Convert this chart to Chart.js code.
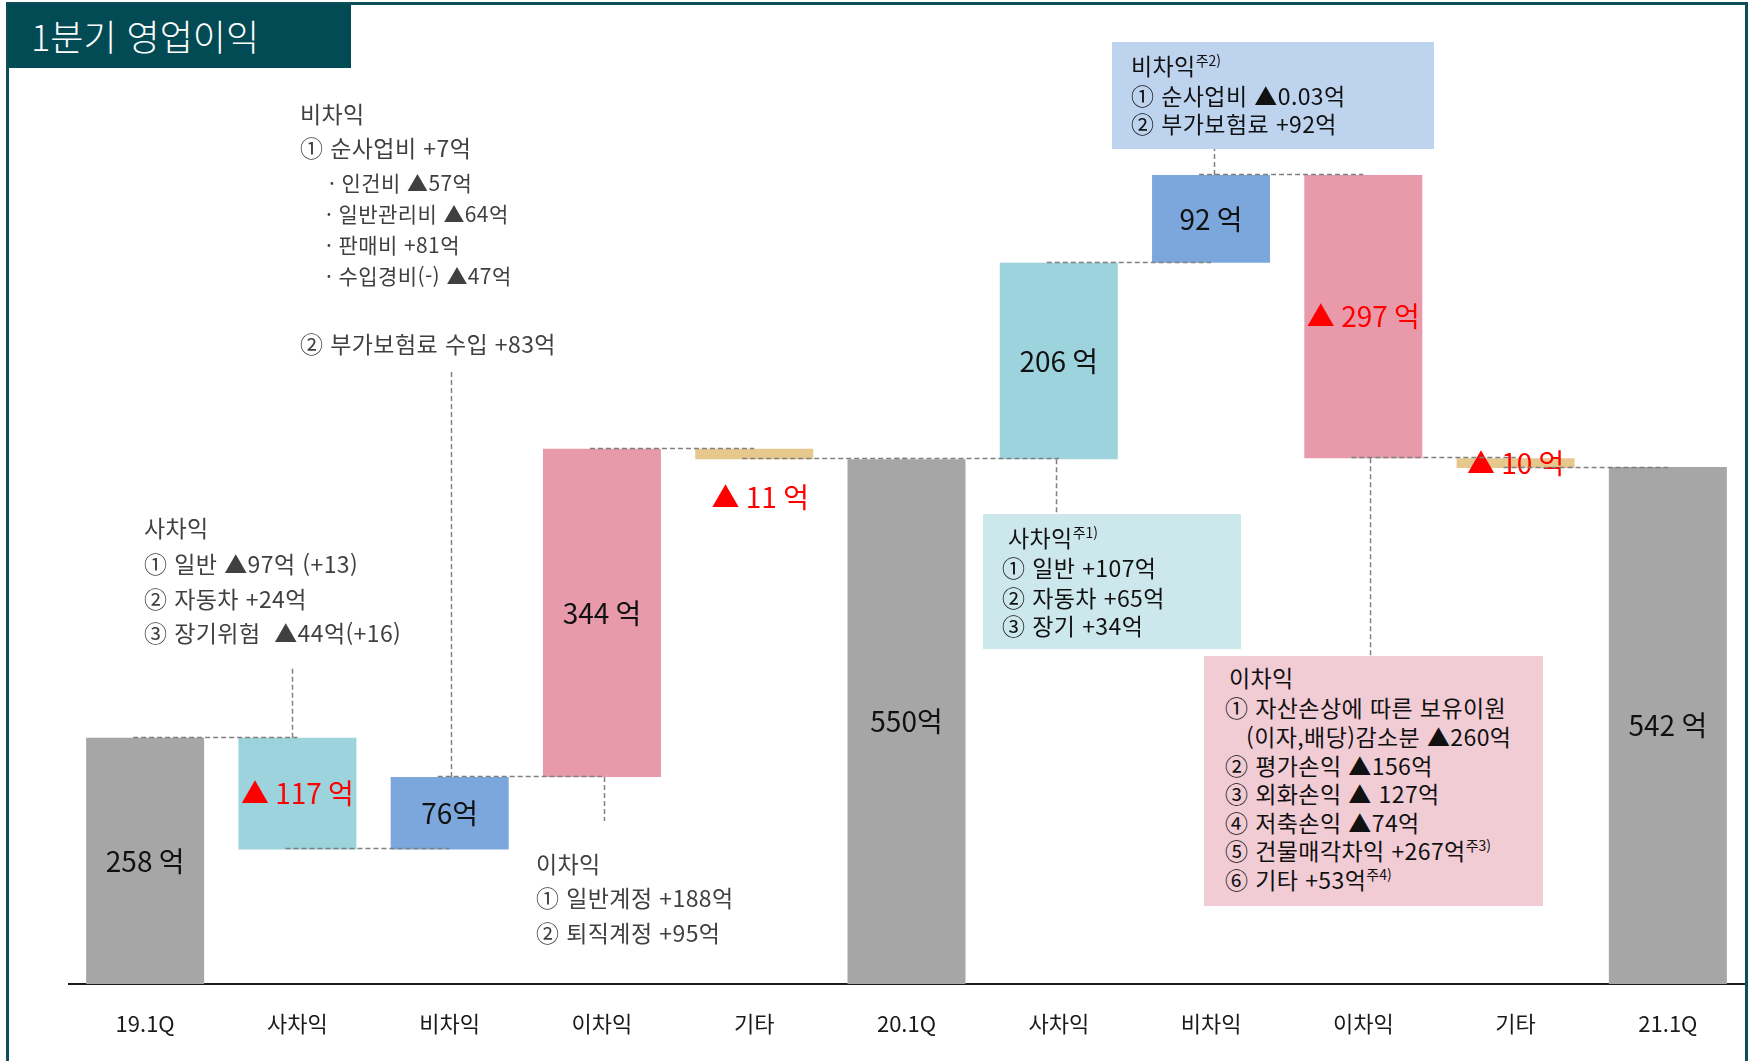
<!DOCTYPE html>
<html lang="ko">
<head>
<meta charset="utf-8">
<title>1분기 영업이익</title>
<script src="https://cdn.jsdelivr.net/npm/chart.js@4.4.1/dist/chart.umd.min.js"></script>
<style>
  html, body { margin: 0; padding: 0; background: #fff; }
  #wrap { position: relative; width: 1752px; height: 1061px; overflow: hidden;
          font-family: "Noto Sans CJK KR", "Noto Sans", sans-serif; }
  #chart { position: absolute; left: 0; top: 0; }
  .frame { position: absolute; left: 6px; top: 2px; width: 1736px; height: 1080px;
           border: 3px solid #0e4f57; border-bottom: none; pointer-events: none; }
  .title { position: absolute; left: 8px; top: 4px; width: 320px; height: 64px;
           padding-left: 23px; background: #024b54; color: #fff; font-size: 36px; line-height: 62px;
           font-weight: 300; }
  .note-box { position: absolute; }
  .note { position: absolute; white-space: pre; letter-spacing: 0.4px; }
  .note sup { font-size: 14px; vertical-align: 9px; line-height: 0; letter-spacing: 0; }
</style>
</head>
<body>
<div id="wrap">
  <canvas id="chart"></canvas>
  <div class="frame"></div>
  <div class="title">1분기 영업이익</div>
</div>
<script>
/* ---- data ---- */
const CATEGORIES   = ['19.1Q', '사차익', '비차익', '이차익', '기타', '20.1Q', '사차익', '비차익', '이차익', '기타', '21.1Q'];
const AMOUNTS      = [258, -117, 76, 344, -11, 550, 206, 92, -297, -10, 542];
const IS_TOTAL     = [true, false, false, false, false, true, false, false, false, false, true];
const VALUE_LABELS = ['258 억', '▲ 117 억', '76억', '344 억', '▲ 11 억', '550억', '206 억', '92 억', '▲ 297 억', '▲ 10 억', '542 억'];

const BAR_COLORS = {
  total:  '#a6a6a6',
  '사차익': '#9cd3dc',
  '비차익': '#7ba7dc',
  '이차익': '#e89aab',
  '기타':   '#e6c88c'
};

const FONT = '"Noto Sans CJK KR", "Noto Sans", sans-serif';

/* annotation boxes and lines (layout only) */
const NOTE_BOXES = [
  { x: 1112, y: 42,  w: 322, h: 107, fill: '#bdd3ee' },
  { x: 983,  y: 514, w: 258, h: 135, fill: '#cde8ec' },
  { x: 1204, y: 656, w: 339, h: 250, fill: '#f2ccd5' }
];

const NOTE_LINES = [
  { t: '비차익',                 x: 300,  y: 113, s: 23, c: '#404040' },
  { t: '① 순사업비 +7억',        x: 300,  y: 147, s: 23, c: '#404040' },
  { t: '· 인건비 ▲57억',         x: 329,  y: 182, s: 21, c: '#404040' },
  { t: '· 일반관리비 ▲64억',     x: 326,  y: 213, s: 21, c: '#404040' },
  { t: '· 판매비 +81억',         x: 326,  y: 244, s: 21, c: '#404040' },
  { t: '· 수입경비(-) ▲47억',    x: 326,  y: 275, s: 21, c: '#404040' },
  { t: '② 부가보험료 수입 +83억', x: 300,  y: 343, s: 23, c: '#404040' },

  { t: '사차익',                 x: 144,  y: 527, s: 23, c: '#404040' },
  { t: '① 일반 ▲97억 (+13)',     x: 144,  y: 563, s: 23, c: '#404040' },
  { t: '② 자동차 +24억',         x: 144,  y: 598, s: 23, c: '#404040' },
  { t: '③ 장기위험  ▲44억(+16)', x: 144,  y: 632, s: 23, c: '#404040' },

  { t: '이차익',                 x: 536,  y: 863, s: 23, c: '#404040' },
  { t: '① 일반계정 +188억',      x: 536,  y: 897, s: 23, c: '#404040' },
  { t: '② 퇴직계정 +95억',       x: 536,  y: 932, s: 23, c: '#404040' },

  { t: '비차익', sup: '주2)',    x: 1131, y: 65,  s: 23, c: '#111' },
  { t: '① 순사업비 ▲0.03억',     x: 1131, y: 95,  s: 23, c: '#111' },
  { t: '② 부가보험료 +92억',     x: 1131, y: 123, s: 23, c: '#111' },

  { t: '사차익', sup: '주1)',    x: 1008, y: 537, s: 23, c: '#111' },
  { t: '① 일반 +107억',          x: 1002, y: 567, s: 23, c: '#111' },
  { t: '② 자동차 +65억',         x: 1002, y: 597, s: 23, c: '#111' },
  { t: '③ 장기 +34억',           x: 1002, y: 625, s: 23, c: '#111' },

  { t: '이차익',                       x: 1229, y: 677, s: 23, c: '#111' },
  { t: '① 자산손상에 따른 보유이원',    x: 1225, y: 707, s: 23, c: '#111' },
  { t: '(이자,배당)감소분 ▲260억',      x: 1246, y: 736, s: 23, c: '#111' },
  { t: '② 평가손익 ▲156억',            x: 1225, y: 765, s: 23, c: '#111' },
  { t: '③ 외화손익 ▲ 127억',           x: 1225, y: 793, s: 23, c: '#111' },
  { t: '④ 저축손익 ▲74억',             x: 1225, y: 822, s: 23, c: '#111' },
  { t: '⑤ 건물매각차익 +267억', sup: '주3)', x: 1225, y: 850, s: 23, c: '#111' },
  { t: '⑥ 기타 +53억', sup: '주4)',     x: 1225, y: 879, s: 23, c: '#111' }
];

/* vertical dashed leaders: bar index, which edge, and where the note sits */
const LEADERS = [
  { bar: 1, edge: 'top',    to: 668, dx: -5 },
  { bar: 2, edge: 'top',    to: 369, dx: 1 },
  { bar: 3, edge: 'bottom', to: 821, dx: 2 },
  { bar: 6, edge: 'bottom', to: 514, dx: -3 },
  { bar: 7, edge: 'top',    to: 143, dx: 3 },
  { bar: 8, edge: 'bottom', to: 656, dx: 7 }
];

/* ---- waterfall ranges ---- */
const levels = [];
let run = 0;
const ranges = AMOUNTS.map((v, i) => {
  if (IS_TOTAL[i]) { run = v; levels.push(run); return [0, v]; }
  const start = run;
  run += v;
  levels.push(run);
  return [Math.min(start, run), Math.max(start, run)];
});
const barColors = CATEGORIES.map((c, i) => IS_TOTAL[i] ? BAR_COLORS.total : BAR_COLORS[c]);

/* ---- notes (real text) ---- */
const wrap = document.getElementById('wrap');
NOTE_BOXES.forEach(b => {
  const d = document.createElement('div');
  d.className = 'note-box';
  d.style.cssText = `left:${b.x}px;top:${b.y}px;width:${b.w}px;height:${b.h}px;background:${b.fill}`;
  wrap.insertBefore(d, wrap.querySelector('.frame'));
});
NOTE_LINES.forEach(l => {
  const h = Math.round(l.s * 1.4);
  const d = document.createElement('div');
  d.className = 'note';
  d.style.cssText = `left:${l.x}px;top:${l.y - h / 2}px;height:${h}px;line-height:${h}px;font-size:${l.s}px;color:${l.c}`;
  d.textContent = l.t;
  if (l.sup) {
    const s = document.createElement('sup');
    s.textContent = l.sup;
    d.appendChild(s);
  }
  wrap.appendChild(d);
});

/* ---- connectors, leaders, value labels ---- */
const waterfallDecor = {
  id: 'waterfallDecor',
  afterDatasetsDraw(chart) {
    const { ctx, scales: { y } } = chart;
    const bars = chart.getDatasetMeta(0).data;

    ctx.save();
    ctx.font = `28px ${FONT}`;
    ctx.textAlign = 'center';
    ctx.textBaseline = 'middle';
    bars.forEach((bar, i) => {
      const top = Math.min(bar.y, bar.base), bottom = Math.max(bar.y, bar.base);
      const cy = i === 4 ? bottom + 38 : (top + bottom) / 2;
      ctx.fillStyle = AMOUNTS[i] < 0 ? '#ff0000' : '#111111';
      ctx.fillText(VALUE_LABELS[i], bar.x + (i === 4 ? 6 : 0), cy);
    });
    ctx.restore();

    ctx.save();
    ctx.strokeStyle = '#808080';
    ctx.lineWidth = 1.5;
    ctx.setLineDash([5, 3]);
    for (let i = 0; i < levels.length - 1; i++) {
      const py = Math.round(y.getPixelForValue(levels[i])) - 0.5;
      ctx.beginPath();
      ctx.moveTo(bars[i].x - 12, py);
      ctx.lineTo(bars[i + 1].x, py);
      ctx.stroke();
    }
    LEADERS.forEach(l => {
      const bar = bars[l.bar];
      const from = l.edge === 'top' ? Math.min(bar.y, bar.base) : Math.max(bar.y, bar.base);
      const px = Math.round(bar.x + l.dx) + 0.5;
      ctx.beginPath();
      ctx.moveTo(px, from);
      ctx.lineTo(px, l.to);
      ctx.stroke();
    });
    ctx.restore();
  }
};

Chart.defaults.font.family = FONT;

new Chart(document.getElementById('chart'), {
  type: 'bar',
  data: {
    labels: CATEGORIES,
    datasets: [{
      data: ranges,
      backgroundColor: barColors,
      borderWidth: 0,
      barPercentage: 1,
      categoryPercentage: 0.775
    }]
  },
  options: {
    responsive: true,
    maintainAspectRatio: false,
    animation: false,
    layout: { padding: { left: 69, right: 8, top: 30, bottom: 0 } },
    plugins: { legend: { display: false }, tooltip: { enabled: false } },
    scales: {
      x: {
        grid: { display: false },
        border: { display: true, color: '#1a1a1a', width: 2 },
        ticks: { color: '#1a1a1a', font: { size: 22 }, padding: 18, maxRotation: 0, autoSkip: false },
        afterFit: s => { s.height = 77; }
      },
      y: { display: false, min: 0, max: 1000 }
    }
  },
  plugins: [waterfallDecor]
});
</script>
</body>
</html>
